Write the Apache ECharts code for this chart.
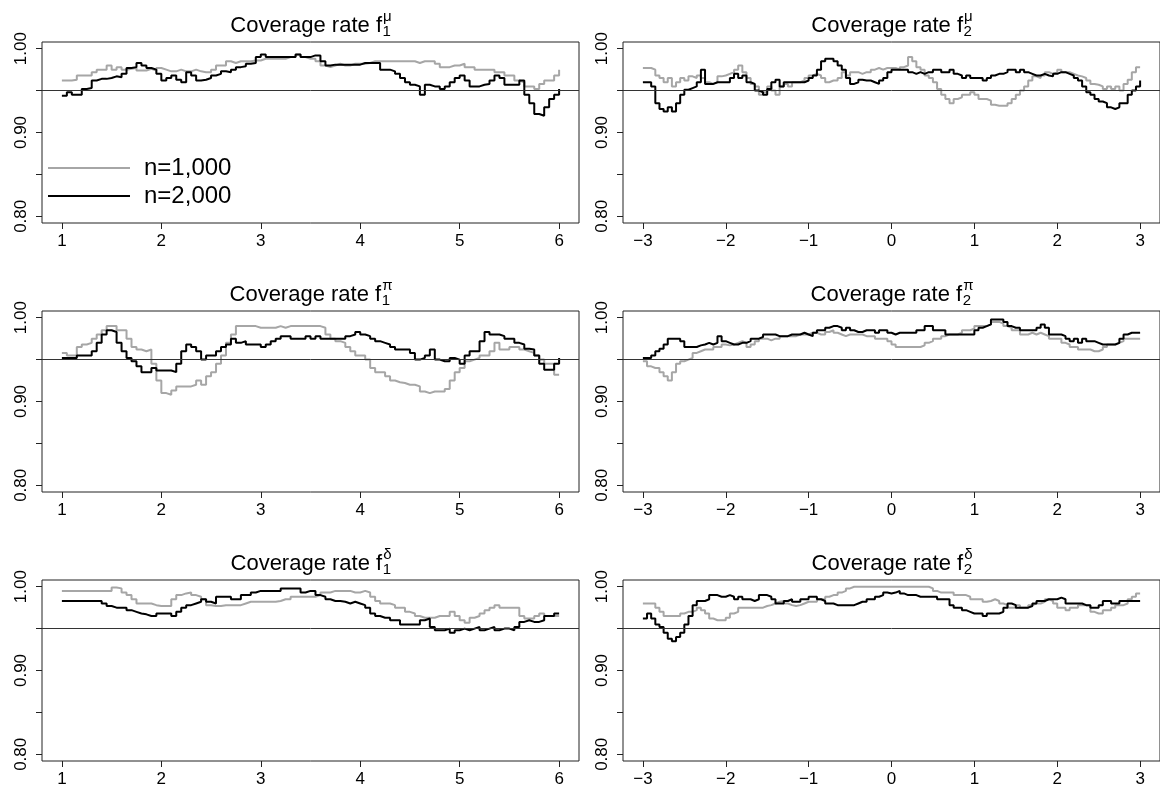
<!DOCTYPE html>
<html>
<head>
<meta charset="utf-8">
<script src="https://cdn.jsdelivr.net/npm/echarts@6/dist/echarts.min.js"></script>
<style>
  html, body { margin: 0; padding: 0; background: #fff; }
  #chart { width: 1160px; height: 788px; }
</style>
</head>
<body>
<div id="chart"></div>
<script>
// Evaluation points: x in [1, 6] for f1 panels, x in [-3, 3] for f2 panels (step 0.05)
const xRangeF1 = [1, 6];
const xRangeF2 = [-3, 3];
const xStep = 0.05;

const xTicksF1 = [1, 2, 3, 4, 5, 6];
const xTicksF2 = [-3, -2, -1, 0, 1, 2, 3];
const yTicks = [0.80, 0.85, 0.90, 0.95, 1.00];
const yTickLabels = [0.80, 0.90, 1.00];
const nominalLevel = 0.95;

const seriesNames = ['n=1,000', 'n=2,000'];

// ---- coverage rate of f1^mu ----
const f1MuN1000 = [
  .962,.962,.963,.968,.968,.968,.972,.975,.975,.980,
  .975,.978,.975,.976,.977,.974,.974,.976,.974,.977,
  .975,.973,.973,.975,.973,.973,.975,.973,.972,.972,
  .975,.980,.980,.985,.983,.985,.985,.985,.986,.986,
  .988,.988,.988,.988,.988,.990,.990,.993,.990,.988,
  .988,.985,.980,.978,.980,.982,.980,.980,.982,.982,
  .982,.983,.985,.985,.985,.985,.985,.985,.985,.985,
  .985,.983,.985,.985,.985,.982,.978,.978,.980,.980,
  .982,.978,.978,.975,.975,.975,.975,.972,.972,.968,
  .968,.962,.960,.955,.955,.952,.958,.962,.962,.968,
  .975
];
const f1MuN2000 = [
  .944,.948,.945,.945,.952,.953,.962,.964,.964,.965,
  .967,.966,.970,.977,.978,.983,.980,.977,.975,.970,
  .962,.965,.968,.963,.960,.972,.968,.962,.963,.965,
  .968,.970,.973,.972,.975,.978,.979,.982,.983,.990,
  .993,.990,.990,.990,.990,.990,.990,.993,.990,.990,
  .992,.992,.985,.980,.981,.981,.981,.981,.981,.981,
  .983,.983,.983,.983,.975,.975,.973,.970,.965,.960,
  .957,.955,.945,.957,.955,.955,.952,.955,.960,.965,
  .968,.962,.955,.955,.957,.958,.962,.968,.965,.957,
  .957,.957,.962,.945,.935,.922,.920,.930,.940,.945,
  .952
];

// ---- coverage rate of f2^mu ----
const f2MuN1000 = [
  .977,.977,.975,.968,.965,.960,.965,.955,.960,.965,
  .962,.967,.965,.968,.965,.960,.958,.960,.967,.968,
  .970,.972,.975,.980,.972,.965,.958,.955,.945,.948,
  .955,.950,.945,.955,.958,.955,.960,.960,.962,.965,
  .968,.970,.968,.965,.960,.962,.962,.965,.972,.968,
  .972,.972,.970,.972,.972,.975,.977,.975,.977,.977,
  .977,.975,.978,.980,.990,.985,.978,.975,.968,.965,
  .960,.952,.945,.940,.935,.940,.942,.945,.945,.948,
  .945,.940,.940,.938,.933,.932,.932,.932,.935,.940,
  .945,.950,.955,.962,.967,.965,.968,.972,.970,.972,
  .975,.972,.972,.970,.968,.967,.965,.962,.958,.957,
  .955,.952,.955,.952,.955,.950,.958,.963,.972,.978,
  .978
];
const f2MuN2000 = [
  .960,.960,.955,.935,.928,.925,.930,.925,.935,.945,
  .951,.953,.955,.960,.975,.958,.958,.960,.960,.960,
  .960,.965,.970,.965,.968,.960,.958,.950,.948,.945,
  .952,.960,.963,.955,.960,.960,.960,.960,.960,.962,
  .965,.968,.975,.985,.988,.988,.985,.980,.975,.965,
  .958,.960,.963,.962,.962,.960,.958,.962,.965,.972,
  .975,.975,.975,.975,.972,.970,.972,.970,.972,.972,
  .975,.975,.972,.972,.975,.970,.968,.965,.968,.965,
  .965,.965,.962,.965,.968,.970,.970,.972,.975,.975,
  .972,.975,.972,.970,.968,.968,.970,.968,.967,.970,
  .972,.972,.970,.968,.965,.962,.955,.948,.945,.940,
  .937,.935,.930,.928,.930,.935,.935,.945,.950,.955,
  .962
];

// ---- coverage rate of f1^pi ----
const f1PiN1000 = [
  .958,.955,.955,.965,.968,.970,.975,.980,.985,.990,
  .990,.985,.985,.975,.965,.962,.960,.962,.945,.925,
  .910,.908,.913,.918,.918,.918,.920,.925,.920,.930,
  .935,.945,.955,.970,.980,.990,.990,.990,.990,.988,
  .988,.988,.988,.990,.988,.990,.990,.990,.990,.990,
  .990,.990,.988,.980,.975,.972,.970,.965,.960,.955,
  .955,.950,.940,.935,.935,.930,.925,.923,.922,.920,
  .920,.918,.912,.910,.912,.912,.912,.915,.925,.935,
  .940,.948,.950,.952,.955,.955,.960,.970,.962,.962,
  .965,.965,.962,.960,.958,.955,.950,.945,.945,.932,
  .932
];
const f1PiN2000 = [
  .952,.952,.952,.955,.955,.955,.960,.970,.980,.985,
  .983,.970,.960,.952,.948,.942,.935,.935,.940,.937,
  .937,.937,.935,.945,.960,.968,.965,.960,.950,.955,
  .955,.960,.965,.968,.975,.970,.972,.968,.968,.968,
  .965,.968,.972,.975,.978,.978,.975,.975,.975,.978,
  .975,.978,.975,.975,.975,.975,.975,.978,.980,.983,
  .980,.978,.975,.972,.970,.968,.965,.962,.962,.962,
  .958,.950,.952,.955,.962,.950,.948,.948,.952,.950,
  .945,.955,.960,.960,.972,.983,.980,.980,.978,.975,
  .975,.970,.968,.963,.962,.955,.945,.938,.938,.945,
  .952
];

// ---- coverage rate of f2^pi ----
const f2PiN1000 = [
  .948,.942,.940,.940,.935,.930,.925,.935,.945,.948,
  .950,.952,.958,.960,.962,.962,.962,.965,.965,.968,
  .967,.968,.970,.972,.970,.965,.968,.972,.975,.975,
  .973,.975,.975,.978,.978,.978,.978,.980,.980,.980,
  .982,.982,.980,.980,.983,.985,.982,.980,.978,.980,
  .980,.980,.980,.978,.978,.978,.975,.975,.975,.972,
  .968,.965,.965,.965,.965,.965,.965,.967,.970,.972,
  .975,.975,.978,.980,.980,.980,.982,.985,.985,.987,
  .990,.990,.990,.992,.995,.995,.993,.990,.988,.985,
  .985,.980,.980,.982,.980,.982,.980,.978,.975,.975,
  .975,.970,.968,.965,.965,.962,.962,.962,.960,.960,
  .962,.965,.968,.968,.970,.972,.975,.975,.975,.975,
  .975
];
const f2PiN2000 = [
  .952,.952,.955,.960,.963,.968,.975,.975,.975,.972,
  .965,.965,.965,.967,.968,.970,.968,.970,.978,.972,
  .970,.968,.968,.970,.970,.972,.975,.975,.977,.980,
  .980,.980,.978,.978,.978,.980,.980,.980,.982,.980,
  .978,.982,.985,.985,.988,.990,.990,.988,.985,.988,
  .985,.983,.983,.985,.985,.985,.982,.985,.985,.982,
  .980,.982,.982,.982,.982,.982,.985,.985,.990,.990,
  .985,.985,.985,.980,.980,.980,.980,.980,.980,.980,
  .985,.988,.990,.992,.998,.998,.998,.995,.990,.988,
  .988,.985,.985,.985,.985,.988,.992,.988,.980,.980,
  .980,.978,.975,.972,.975,.970,.975,.972,.972,.970,
  .968,.968,.968,.968,.970,.975,.980,.982,.982,.982,
  .982
];

// ---- coverage rate of f1^delta ----
const f1DeltaN1000 = [
  .995,.995,.995,.995,.995,.995,.995,.995,.995,.995,
  .999,.998,.993,.990,.985,.980,.980,.980,.978,.977,
  .977,.977,.985,.990,.992,.993,.990,.988,.985,.978,
  .977,.977,.978,.978,.978,.978,.980,.982,.982,.982,
  .982,.982,.982,.983,.985,.985,.988,.988,.988,.988,
  .988,.990,.993,.993,.995,.995,.995,.995,.993,.993,
  .995,.993,.988,.983,.980,.980,.978,.975,.975,.970,
  .968,.965,.963,.963,.963,.965,.965,.965,.970,.965,
  .960,.957,.963,.965,.968,.972,.975,.978,.975,.975,
  .975,.975,.965,.962,.962,.965,.968,.965,.965,.965,
  .965
];
const f1DeltaN2000 = [
  .983,.983,.983,.983,.983,.983,.983,.983,.980,.977,
  .975,.975,.975,.972,.970,.968,.967,.965,.965,.968,
  .968,.968,.965,.970,.975,.978,.980,.982,.985,.982,
  .980,.988,.988,.988,.985,.985,.990,.990,.993,.995,
  .995,.995,.995,.995,.998,.998,.998,.998,.993,.995,
  .995,.990,.988,.985,.983,.983,.982,.980,.982,.980,
  .978,.975,.968,.965,.963,.963,.960,.960,.955,.955,
  .955,.955,.960,.962,.952,.948,.948,.950,.945,.948,
  .950,.948,.950,.952,.948,.950,.952,.948,.950,.950,
  .948,.952,.958,.960,.958,.958,.960,.965,.965,.968,
  .968
];

// ---- coverage rate of f2^delta ----
const f2DeltaN1000 = [
  .980,.980,.980,.975,.970,.965,.965,.965,.965,.968,
  .970,.970,.972,.975,.972,.968,.962,.960,.960,.960,
  .963,.968,.970,.975,.975,.975,.975,.975,.975,.977,
  .978,.980,.982,.983,.980,.978,.977,.978,.980,.982,
  .982,.982,.985,.985,.988,.990,.990,.993,.995,.998,
  1.00,1.00,1.00,1.00,1.00,1.00,1.00,1.00,1.00,1.00,
  1.00,1.00,1.00,1.00,1.00,1.00,1.00,1.00,1.00,.998,
  .995,.993,.993,.993,.993,.990,.990,.990,.988,.985,
  .985,.985,.982,.983,.985,.983,.980,.978,.975,.975,
  .978,.975,.975,.978,.980,.980,.982,.985,.983,.980,
  .975,.975,.972,.975,.975,.978,.978,.978,.970,.968,
  .968,.972,.972,.975,.978,.978,.980,.985,.988,.992,
  .992
];
const f2DeltaN2000 = [
  .962,.968,.962,.955,.952,.945,.938,.935,.940,.945,
  .955,.965,.978,.983,.983,.985,.990,.990,.988,.988,
  .990,.988,.985,.988,.985,.985,.983,.985,.990,.990,
  .988,.985,.980,.980,.983,.985,.982,.982,.985,.985,
  .988,.988,.985,.983,.980,.980,.978,.978,.978,.978,
  .978,.980,.982,.982,.985,.985,.988,.990,.993,.992,
  .993,.995,.992,.990,.990,.990,.988,.988,.988,.988,
  .988,.985,.985,.985,.978,.975,.975,.972,.970,.968,
  .968,.968,.965,.968,.968,.968,.970,.975,.980,.978,
  .975,.975,.975,.977,.980,.983,.983,.985,.985,.985,
  .987,.985,.980,.980,.980,.980,.978,.978,.975,.975,
  .978,.983,.983,.980,.980,.983,.983,.983,.983,.983,
  .983
];

// ---------------------------------------------------------------
const FONT = '"Liberation Sans", Arial, Helvetica, sans-serif';
const COLOR_N1000 = '#a6a6a6';
const COLOR_N2000 = '#000000';
const INK = '#222222';

function evalPoints(range) {
  const n = Math.round((range[1] - range[0]) / xStep) + 1;
  const out = [];
  for (let i = 0; i < n; i++) out.push(+(range[0] + i * xStep).toFixed(2));
  return out;
}
function pairs(xs, ys) { return xs.map((x, i) => [x, ys[i]]); }

const panels = [
  { sup: 'μ', sub: '1', range: xRangeF1, ticks: xTicksF1, a: f1MuN1000,    b: f1MuN2000 },
  { sup: 'μ', sub: '2', range: xRangeF2, ticks: xTicksF2, a: f2MuN1000,    b: f2MuN2000 },
  { sup: 'π', sub: '1', range: xRangeF1, ticks: xTicksF1, a: f1PiN1000,    b: f1PiN2000 },
  { sup: 'π', sub: '2', range: xRangeF2, ticks: xTicksF2, a: f2PiN1000,    b: f2PiN2000 },
  { sup: 'δ', sub: '1', range: xRangeF1, ticks: xTicksF1, a: f1DeltaN1000, b: f1DeltaN2000 },
  { sup: 'δ', sub: '2', range: xRangeF2, ticks: xTicksF2, a: f2DeltaN1000, b: f2DeltaN2000 }
];

// panel layout (plot regions)
const colLeft = [42, 623];
const rowTop = [42, 311, 580];
const boxW = 537, boxH = 181;

// 4% padding on both axes around the data ranges
const yLo = 0.80, yHi = 1.00, pad = 0.04;

const measureCtx = document.createElement('canvas').getContext('2d');
function textWidth(txt, size) {
  measureCtx.font = size + 'px ' + FONT;
  return measureCtx.measureText(txt).width;
}

const grids = [], xAxes = [], yAxes = [], series = [], graphics = [];

panels.forEach((p, i) => {
  const col = i % 2, row = Math.floor(i / 2);
  const left = colLeft[col], top = rowTop[row];
  const span = p.range[1] - p.range[0];
  grids.push({
    left: left, top: top, width: boxW, height: boxH,
    show: true, borderColor: INK, borderWidth: 1, backgroundColor: 'transparent'
  });
  xAxes.push({
    type: 'value', gridIndex: i, position: 'bottom',
    min: p.range[0] - pad * span, max: p.range[1] + pad * span,
    axisLine: { show: false, onZero: false },
    splitLine: { show: false },
    axisTick: { show: true, inside: false, length: 6, customValues: p.ticks, lineStyle: { color: INK, width: 1 } },
    axisLabel: {
      show: true, customValues: p.ticks, margin: 10,
      fontFamily: FONT, fontSize: 17, color: '#000',
      formatter: v => (v < 0 ? '\u2212' + Math.abs(v) : String(v))
    }
  });
  yAxes.push({
    type: 'value', gridIndex: i, position: 'left',
    min: yLo - pad * (yHi - yLo), max: yHi + pad * (yHi - yLo),
    axisLine: { show: false, onZero: false },
    splitLine: { show: false },
    axisTick: { show: true, inside: false, length: 6, customValues: yTicks, lineStyle: { color: INK, width: 1 } },
    axisLabel: {
      show: true, customValues: yTickLabels, rotate: 90, margin: 12,
      fontFamily: FONT, fontSize: 17, color: '#000',
      formatter: v => v.toFixed(2)
    }
  });
  const xs = evalPoints(p.range);
  series.push({
    name: seriesNames[0], type: 'line', xAxisIndex: i, yAxisIndex: i,
    data: pairs(xs, p.a), step: 'end', symbol: 'none', showSymbol: false,
    lineStyle: { color: COLOR_N1000, width: 2 }, itemStyle: { color: COLOR_N1000 },
    z: 2, silent: true
  });
  series.push({
    name: seriesNames[1], type: 'line', xAxisIndex: i, yAxisIndex: i,
    data: pairs(xs, p.b), step: 'end', symbol: 'none', showSymbol: false,
    lineStyle: { color: COLOR_N2000, width: 2 }, itemStyle: { color: COLOR_N2000 },
    z: 3, silent: true,
    markLine: {
      silent: true, symbol: ['none', 'none'], label: { show: false },
      lineStyle: { color: '#333', width: 1, type: 'solid' },
      data: [{ yAxis: nominalLevel }]
    }
  });

  // panel heading: "Coverage rate f" with stacked subscript / superscript
  const mainTxt = 'Coverage rate f';
  const mainSize = 22, scriptSize = 15;
  const wMain = textWidth(mainTxt, mainSize);
  const wScript = Math.max(textWidth(p.sub, scriptSize), textWidth(p.sup, scriptSize));
  const startX = left + boxW / 2 - (wMain + wScript) / 2;
  const anchorX = startX + wMain;
  graphics.push({
    type: 'text', x: startX, y: top - 16.5,
    style: { text: mainTxt, fontFamily: FONT, fontSize: mainSize, fill: '#000', textAlign: 'left', textVerticalAlign: 'middle' }
  });
  graphics.push({
    type: 'text', x: anchorX + 0.5, y: top - 10.5,
    style: { text: p.sub, fontFamily: FONT, fontSize: scriptSize, fill: '#000', textAlign: 'left', textVerticalAlign: 'middle' }
  });
  graphics.push({
    type: 'text', x: anchorX + 1, y: top - 25,
    style: { text: p.sup, fontFamily: FONT, fontSize: scriptSize, fill: '#000', textAlign: 'left', textVerticalAlign: 'middle' }
  });
});

const chart = echarts.init(document.getElementById('chart'), null, { renderer: 'canvas' });
chart.setOption({
  animation: false,
  backgroundColor: '#fff',
  grid: grids,
  xAxis: xAxes,
  yAxis: yAxes,
  series: series,
  legend: {
    data: [
      { name: seriesNames[0], icon: 'rect', itemStyle: { color: COLOR_N1000 } },
      { name: seriesNames[1], icon: 'rect', itemStyle: { color: COLOR_N2000 } }
    ],
    orient: 'vertical',
    left: 48, top: 156, padding: 0,
    itemWidth: 82, itemHeight: 2, itemGap: 4,
    selectedMode: false,
    textStyle: { fontFamily: FONT, fontSize: 24, color: '#000', lineHeight: 24, padding: [0, 0, 0, 9] }
  },
  graphic: graphics
});
</script>
</body>
</html>
